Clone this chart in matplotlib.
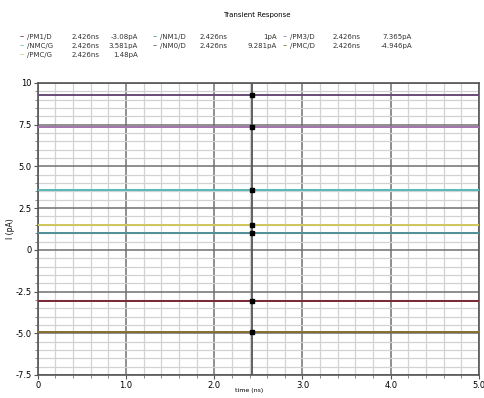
import matplotlib
matplotlib.use("Agg")
import matplotlib.pyplot as plt
import numpy as np

# signals: (name, current in pA, colour), laid out in legend columns
names = ["/PM1/D", "/NMC/G", "/PMC/G", "/NM1/D", "/NM0/D", "/PM3/D", "/PMC/D"]
currents = [-3.08, 3.581, 1.48, 1.0, 9.281, 7.365, -4.946]
colors = ["#7a2534", "#56b8b8", "#cfc75a", "#4e8f95", "#6a4a78", "#a275ac", "#86702f"]
legend_col = [0, 0, 0, 1, 1, 2, 2]
legend_row = [0, 1, 2, 0, 1, 0, 1]
marker_t = 2.426          # ns, cursor position
t_range = [0.0, 5.0]
x_ticks = [0, 1, 2, 3, 4, 5]
x_ticklabels = ["0", "1.0", "2.0", "3.0", "4.0", "5.0"]
y_ticks = [-7.5, -5.0, -2.5, 0, 2.5, 5.0, 7.5, 10]
y_ticklabels = ["-7.5", "-5.0", "-2.5", "0", "2.5", "5.0", "7.5", "10"]

fig = plt.figure(figsize=(4.85, 3.98), dpi=100)
ax = fig.add_axes([0.0777, 0.0578, 0.9099, 0.7337])

ax.set_xlim(*t_range); ax.set_ylim(-7.5, 10)
ax.set_xticks(x_ticks); ax.set_xticklabels(x_ticklabels)
ax.set_yticks(y_ticks); ax.set_yticklabels(y_ticklabels)
ax.set_xticks(np.arange(0, 5.01, 0.2), minor=True)
ax.set_yticks(np.arange(-7.5, 10.01, 0.5), minor=True)
ax.grid(which="minor", color="#d2d2d2", lw=0.9)
ax.grid(which="major", color="#707070", lw=1.1)
ax.set_axisbelow(True)
ax.tick_params(which="major", labelsize=6, length=3, color="#555555", pad=1.5)
ax.tick_params(which="minor", length=2, color="#777777")
for s in ax.spines.values():
    s.set_color("#555555"); s.set_linewidth(1.2)

for c, col in zip(currents, colors):
    ax.plot(t_range, [c, c], color=col, lw=1.4, zorder=3)

ax.axvline(marker_t, color="#555555", lw=1.3, zorder=2)
ax.plot([marker_t] * len(currents), currents, "s", color="black", ms=2.2, zorder=4)

ax.set_xlabel("time (ns)", fontsize=4.5, labelpad=2)
ax.xaxis.set_label_coords(0.48, -0.045)
ax.set_ylabel("I (pA)", fontsize=5.5, labelpad=0)

fig.text(257 / 485, 1 - 15 / 398, "Transient Response", fontsize=5, ha="center", va="center")

# cursor readout table
dash_x = [20, 153, 283]
name_x = [27, 160, 290]
time_x = [72, 200, 333]
val_x = [138, 277, 412]
row_y = [37, 46, 55]
for n, c, col, ci, ri in zip(names, currents, colors, legend_col, legend_row):
    y = 1 - row_y[ri] / 398
    fig.text(dash_x[ci] / 485, y, "\u2013", color=col, fontsize=6, va="center")
    fig.text(name_x[ci] / 485, y, n, fontsize=5, va="center", color="#333333")
    fig.text(time_x[ci] / 485, y, f"{marker_t}ns", fontsize=5, va="center", color="#333333")
    fig.text(val_x[ci] / 485, y, f"{c:g}pA", fontsize=5, va="center", ha="right", color="#333333")

fig.savefig("out.png", dpi=100)
